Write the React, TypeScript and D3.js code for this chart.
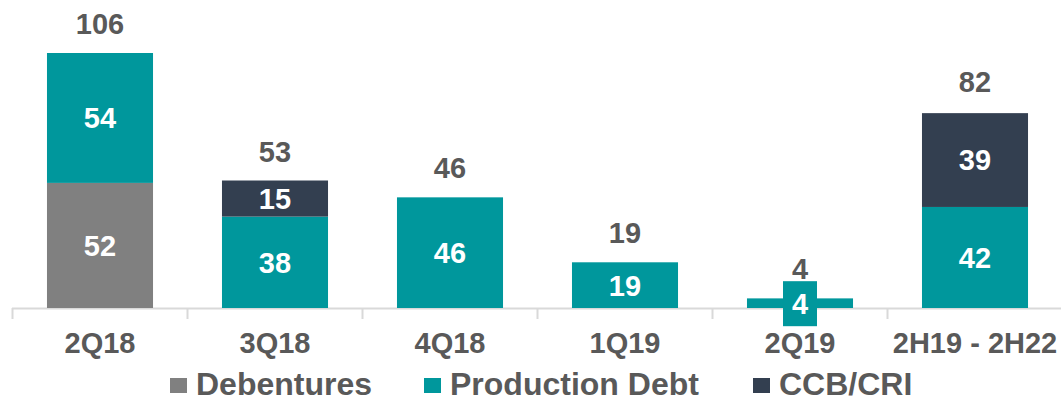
import React from "react";
import * as d3 from "d3";

const categories = ["2Q18", "3Q18", "4Q18", "1Q19", "2Q19", "2H19 - 2H22"];
const debentures = [52, 0, 0, 0, 0, 0];
const productionDebt = [54, 38, 46, 19, 4, 42];
const ccbCri = [0, 15, 0, 0, 0, 39];
const totals = [106, 53, 46, 19, 4, 82];
const seriesNames = ["Debentures", "Production Debt", "CCB/CRI"];
const seriesColors = ["#808080", "#00979C", "#333F50"];

const W = 1061;
const H = 402;
const FONT = "'Liberation Sans', Arial, sans-serif";
const TEXT = "#595959";

export default function App() {
  const x = d3
    .scaleBand<string>()
    .domain(categories)
    .range([12.5, 1062.5])
    .paddingInner(0.394)
    .paddingOuter(0.197);
  const y = d3.scaleLinear().domain([0, 106]).range([308, 53]);

  const rows = categories.map((c, i) => ({
    cat: c,
    Debentures: debentures[i],
    "Production Debt": productionDebt[i],
    "CCB/CRI": ccbCri[i],
  }));
  const stack = d3.stack<any>().keys(seriesNames)(rows);

  const step = x.step();
  const boundaries = d3.range(categories.length + 1).map((i) => 12.5 + i * step);

  const legendItems = [
    { name: seriesNames[0], color: seriesColors[0], x: 170 },
    { name: seriesNames[1], color: seriesColors[1], x: 424 },
    { name: seriesNames[2], color: seriesColors[2], x: 753 },
  ];

  return (
    <svg
      width={W}
      height={H}
      style={{ position: "absolute", left: 0, top: 0, background: "#fff" }}
      fontFamily={FONT}
      fontWeight="bold"
    >
      <line x1={12} x2={W} y1={308.5} y2={308.5} stroke="#D9D9D9" strokeWidth={2} />
      {boundaries.map((bx, i) => (
        <line key={i} x1={bx} x2={bx} y1={308} y2={319} stroke="#D9D9D9" strokeWidth={2} />
      ))}

      {stack.map((layer, si) =>
        layer.map((d, i) => {
          const v = d[1] - d[0];
          if (v <= 0) return null;
          const cx = (x(categories[i]) as number) + x.bandwidth() / 2;
          const yTop = y(d[1]);
          const yBot = y(d[0]);
          const cy = (yTop + yBot) / 2;
          const label = String(v);
          const boxW = label.length * 16 + 18;
          return (
            <g key={`${si}-${i}`}>
              <rect
                x={x(categories[i])}
                y={yTop}
                width={x.bandwidth()}
                height={yBot - yTop}
                fill={seriesColors[si]}
              />
              {yBot - yTop < 30 && (
                <rect
                  x={cx - boxW / 2}
                  y={cy - 22}
                  width={boxW}
                  height={45}
                  fill={seriesColors[si]}
                />
              )}
              <text
                x={cx}
                y={cy}
                dy="0.36em"
                textAnchor="middle"
                fill="#fff"
                fontSize={29}
              >
                {label}
              </text>
            </g>
          );
        })
      )}

      {categories.map((c, i) => {
        const cx = (x(c) as number) + x.bandwidth() / 2;
        return (
          <g key={c}>
            <text
              x={cx}
              y={y(totals[i]) - 19}
              textAnchor="middle"
              fill={TEXT}
              fontSize={29}
            >
              {totals[i]}
            </text>
            <text x={cx} y={353} textAnchor="middle" fill={TEXT} fontSize={29}>
              {c}
            </text>
          </g>
        );
      })}

      {legendItems.map((l) => (
        <g key={l.name}>
          <rect x={l.x} y={378} width={17} height={15} fill={l.color} />
          <text x={l.x + 26} y={394.5} fill={TEXT} fontSize={32}>
            {l.name}
          </text>
        </g>
      ))}
    </svg>
  );
}
